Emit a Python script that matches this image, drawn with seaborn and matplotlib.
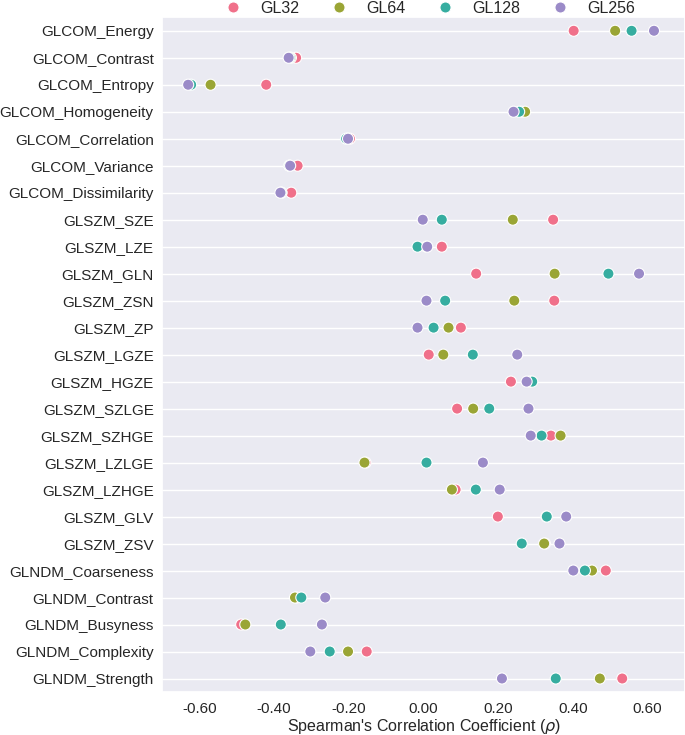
import numpy as np
import pandas as pd
import matplotlib
matplotlib.use("Agg")
import matplotlib.pyplot as plt
import seaborn as sns

features = [
    "GLCOM_Energy", "GLCOM_Contrast", "GLCOM_Entropy", "GLCOM_Homogeneity",
    "GLCOM_Correlation", "GLCOM_Variance", "GLCOM_Dissimilarity",
    "GLSZM_SZE", "GLSZM_LZE", "GLSZM_GLN", "GLSZM_ZSN", "GLSZM_ZP",
    "GLSZM_LGZE", "GLSZM_HGZE", "GLSZM_SZLGE", "GLSZM_SZHGE", "GLSZM_LZLGE",
    "GLSZM_LZHGE", "GLSZM_GLV", "GLSZM_ZSV",
    "GLNDM_Coarseness", "GLNDM_Contrast", "GLNDM_Busyness", "GLNDM_Complexity",
    "GLNDM_Strength",
]
levels = ["GL32", "GL64", "GL128", "GL256"]

gl32 = [0.402, -0.341, -0.421, 0.262, -0.197, -0.337, -0.354,
        0.347, 0.049, 0.141, 0.350, 0.100, 0.014, 0.234, 0.090, 0.341,
        -0.155, 0.086, 0.199, 0.325,
        0.488, -0.340, -0.488, -0.152, 0.532]
gl64 = [0.513, -0.355, -0.570, 0.272, -0.203, -0.359, -0.380,
        0.239, 0.008, 0.351, 0.243, 0.067, 0.053, 0.285, 0.133, 0.367,
        -0.158, 0.076, 0.329, 0.323,
        0.451, -0.344, -0.477, -0.202, 0.472]
gl128 = [0.557, -0.358, -0.622, 0.256, -0.207, -0.359, -0.381,
         0.049, -0.016, 0.495, 0.058, 0.027, 0.132, 0.291, 0.176, 0.316,
         0.008, 0.140, 0.330, 0.263,
         0.432, -0.327, -0.382, -0.251, 0.354]
gl256 = [0.617, -0.361, -0.630, 0.241, -0.202, -0.357, -0.383,
         -0.002, 0.010, 0.577, 0.008, -0.016, 0.251, 0.276, 0.281, 0.287,
         0.159, 0.204, 0.382, 0.364,
         0.401, -0.263, -0.272, -0.303, 0.210]

xticks = [-0.6, -0.4, -0.2, 0.0, 0.2, 0.4, 0.6]

series = {"GL32": gl32, "GL64": gl64, "GL128": gl128, "GL256": gl256}
rows = []
for lvl in levels:
    for f, v in zip(features, series[lvl]):
        rows.append({"Feature": f, "Level": lvl, "rho": v})
df = pd.DataFrame(rows)

sns.set_theme(style="darkgrid")
plt.rcParams["font.family"] = ["Liberation Sans", "DejaVu Sans"]

palette = ["#f0708a", "#9aa535", "#36ada0", "#9b8bc8"]

fig = plt.figure(figsize=(6.85, 7.35), dpi=100)
ax = fig.add_axes([0.2365, 0.0585, 0.7635, 0.918])

sns.stripplot(data=df, x="rho", y="Feature", hue="Level", order=features,
              hue_order=levels, palette=palette, jitter=False, size=8,
              linewidth=0.8, edgecolor="white", ax=ax)

ax.set_xlim(-0.70, 0.70)
ax.set_xticks(xticks)
ax.set_xticklabels([f"{t:.2f}" for t in xticks], fontsize=11)
ax.tick_params(axis="y", labelsize=11, pad=0)
ax.tick_params(axis="x", pad=1)
ax.xaxis.grid(False)
ax.yaxis.grid(True, color="white", linewidth=1.0)
ax.set_ylabel("")
ax.set_xlabel("Spearman's Correlation Coefficient ($\\rho$)", fontsize=11.5, labelpad=1)

leg = ax.legend(loc="lower center", bbox_to_anchor=(0.505, 1.0), ncol=4,
                frameon=False, fontsize=11.5, handletextpad=0.7,
                columnspacing=1.5, borderaxespad=0, borderpad=0.1,
                markerscale=1.0)
for h in leg.legend_handles:
    try:
        h.set_markeredgecolor("white")
    except AttributeError:
        pass

fig.savefig("out.png", dpi=100)
